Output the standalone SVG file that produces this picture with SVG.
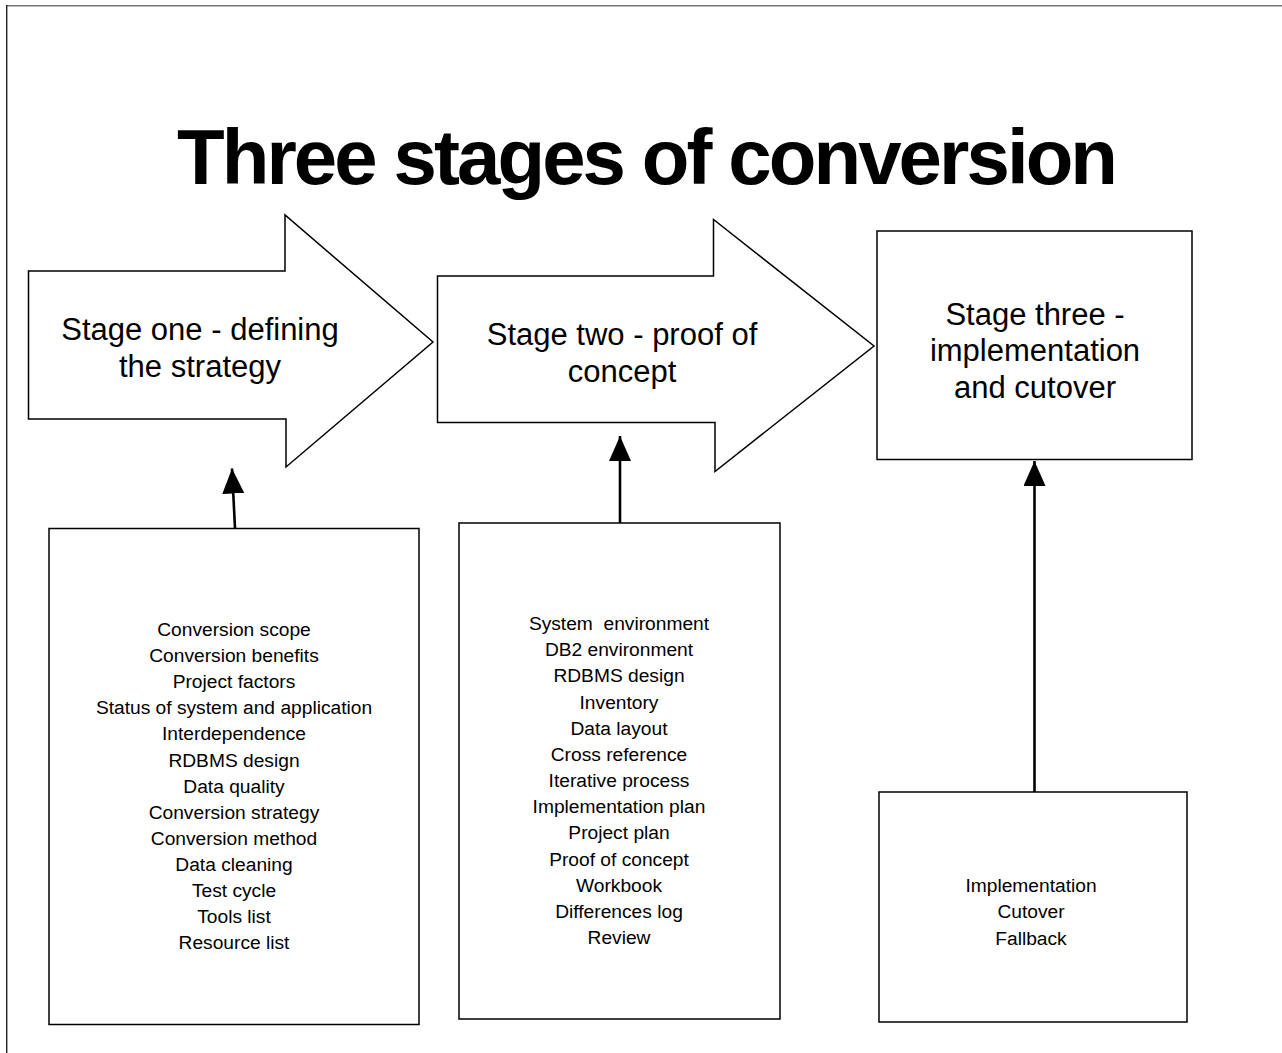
<svg xmlns="http://www.w3.org/2000/svg" width="1282" height="1053" viewBox="0 0 1282 1053">
<style>
.shape{fill:#fff;stroke:#000;stroke-width:1.5;stroke-linejoin:miter}
.stage{font-family:"Liberation Sans",Arial,sans-serif;font-size:31px;fill:#000;text-anchor:middle}
.item{font-family:"Liberation Sans",Arial,sans-serif;font-size:19.2px;fill:#000;text-anchor:middle}
.title{font-family:"Liberation Sans",Arial,sans-serif;font-size:78px;font-weight:bold;fill:#000}
.conn{stroke:#000;stroke-width:2.6;fill:none}
</style>
<defs>
<marker id="ah" markerUnits="userSpaceOnUse" markerWidth="26" markerHeight="22" refX="25" refY="11" orient="auto" viewBox="0 0 26 22">
<path d="M0,0 L25,11 L0,22 z" fill="#000"/>
</marker>
</defs>
<rect width="1282" height="1053" fill="#fff"/>
<g id="frame">
<line x1="6" y1="5.8" x2="1282" y2="5.8" stroke="#777" stroke-width="1.6"/>
<line x1="6.7" y1="5" x2="6.7" y2="1053" stroke="#222" stroke-width="1.4"/>
</g>
<g id="title">
<text class="title" x="177" y="184" textLength="941" lengthAdjust="spacing">Three stages of conversion</text>
</g>
<g id="stage1">
<polygon class="shape" points="28.5,271 285,271 285,215 433,342 286,467 286,419 28.5,419"/>
<text class="stage" x="200" y="340">Stage one - defining</text>
<text class="stage" x="200" y="377">the strategy</text>
</g>
<g id="stage2">
<polygon class="shape" points="437.5,276 713.5,276 713.5,219.5 874,346 715,471.5 715,422.5 437.5,422.5"/>
<text class="stage" x="622" y="345">Stage two - proof of</text>
<text class="stage" x="622" y="382">concept</text>
</g>
<g id="stage3">
<rect class="shape" x="877" y="231" width="315" height="228.5"/>
<text class="stage" x="1035" y="325">Stage three -</text>
<text class="stage" x="1035" y="361">implementation</text>
<text class="stage" x="1035" y="398">and cutover</text>
</g>
<g id="list1">
<rect class="shape" x="49" y="528.5" width="370" height="496"/>
<text class="item" x="234" y="636">Conversion scope</text>
<text class="item" x="234" y="662.1">Conversion benefits</text>
<text class="item" x="234" y="688.2">Project factors</text>
<text class="item" x="234" y="714.3">Status of system and application</text>
<text class="item" x="234" y="740.4">Interdependence</text>
<text class="item" x="234" y="766.5">RDBMS design</text>
<text class="item" x="234" y="792.6">Data quality</text>
<text class="item" x="234" y="818.7">Conversion strategy</text>
<text class="item" x="234" y="844.8">Conversion method</text>
<text class="item" x="234" y="870.9">Data cleaning</text>
<text class="item" x="234" y="897">Test cycle</text>
<text class="item" x="234" y="923.1">Tools list</text>
<text class="item" x="234" y="949.2">Resource list</text>
</g>
<g id="list2">
<rect class="shape" x="459" y="523" width="321" height="496"/>
<text class="item" x="619" y="630" xml:space="preserve">System  environment</text>
<text class="item" x="619" y="656.2">DB2 environment</text>
<text class="item" x="619" y="682.3">RDBMS design</text>
<text class="item" x="619" y="708.5">Inventory</text>
<text class="item" x="619" y="734.7">Data layout</text>
<text class="item" x="619" y="760.8">Cross reference</text>
<text class="item" x="619" y="787">Iterative process</text>
<text class="item" x="619" y="813.2">Implementation plan</text>
<text class="item" x="619" y="839.4">Project plan</text>
<text class="item" x="619" y="865.5">Proof of concept</text>
<text class="item" x="619" y="891.7">Workbook</text>
<text class="item" x="619" y="917.9">Differences log</text>
<text class="item" x="619" y="944">Review</text>
</g>
<g id="list3">
<rect class="shape" x="879" y="792" width="308" height="230"/>
<text class="item" x="1031" y="891.5">Implementation</text>
<text class="item" x="1031" y="918">Cutover</text>
<text class="item" x="1031" y="944.5">Fallback</text>
</g>
<g id="connectors">
<line class="conn" x1="235" y1="528" x2="232" y2="468.5" marker-end="url(#ah)"/>
<line class="conn" x1="620" y1="523" x2="620" y2="436" marker-end="url(#ah)"/>
<line class="conn" x1="1034.5" y1="792" x2="1034.5" y2="461" marker-end="url(#ah)"/>
</g>
</svg>
